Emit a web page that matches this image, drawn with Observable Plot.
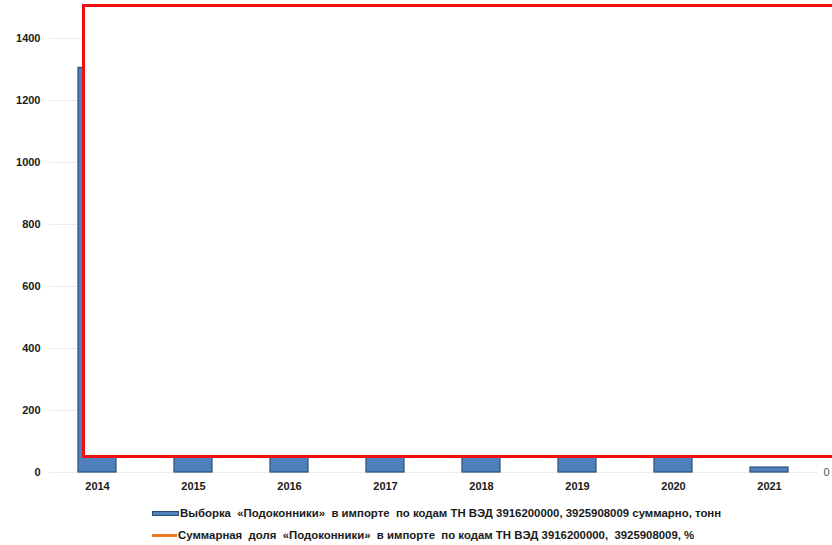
<!DOCTYPE html>
<html><head><meta charset="utf-8">
<script src="https://cdn.jsdelivr.net/npm/d3@7"></script>
<script src="https://cdn.jsdelivr.net/npm/@observablehq/plot@0.6"></script>
<style>
html,body{margin:0;padding:0;background:#fff;overflow:hidden;width:832px;height:545px;}
#wrap{position:relative;width:832px;height:545px;}
#wrap svg{position:absolute;left:0;top:0;}
#box{position:absolute;left:82px;top:4px;width:800px;height:448px;border:3px solid #f00e0e;background:#fff;}
.leg{position:absolute;left:152px;font-family:"Liberation Sans Narrow","Arial Narrow",Arial,sans-serif;font-weight:bold;font-size:11.4px;color:#1a1a1a;white-space:pre;display:flex;align-items:center;}
.sw{display:inline-block;width:25px;margin-right:1px;}
</style></head>
<body><div id="wrap"></div>
<script>
const years = ["2014","2015","2016","2017","2018","2019","2020","2021"];
const tonnes = [1305, 820, 610, 540, 480, 390, 260, 16];
const sharePct = [0.9, 0.6, 0.45, 0.4, 0.35, 0.3, 0.2, 0.15];
const yTicks = [0, 200, 400, 600, 800, 1000, 1200, 1400];
const legendLabels = [
  "Выборка  «Подоконники»  в импорте  по кодам ТН ВЭД 3916200000, 3925908009 суммарно, тонн",
  "Суммарная  доля  «Подоконники»  в импорте  по кодам ТН ВЭД 3916200000,  3925908009, %"
];
const data = years.map((y,i)=>({year:y, t:tonnes[i], p:sharePct[i]}));
const W = 832, H = 500;
const common = {width:W, height:H, marginLeft:49, marginRight:15, marginTop:38, marginBottom:28};
const font = "Liberation Sans, Arial, sans-serif";
const xScale = {domain:years, paddingInner:0.6, paddingOuter:0.3};

const p1 = Plot.plot({
  ...common,
  style:{fontFamily:font, fontSize:"11px", fontWeight:"bold", color:"#1a1a1a", background:"transparent"},
  x:{...xScale, label:null, tickSize:0, tickPadding:10},
  y:{domain:[0,1400], ticks:yTicks, tickFormat:d=>String(d), label:null, tickSize:0, tickPadding:9},
  marks:[
    Plot.gridY(yTicks, {stroke:"#ececec", strokeOpacity:1, strokeWidth:1}),
    Plot.barY(data, {x:"year", y:"t", fill:"#4f81bd", stroke:"#2c4d75", strokeWidth:1.2})
  ]
});
const p2 = Plot.plot({
  ...common,
  style:{fontFamily:font, fontSize:"11px", color:"#555", background:"transparent"},
  x:{...xScale, axis:null},
  y:{domain:[0,1], ticks:[0], tickFormat:d=>String(d), axis:"right", label:null, tickSize:0, tickPadding:6},
  marks:[
    Plot.lineY(data, {x:"year", y:"p", stroke:"#f07a22", strokeWidth:2.5})
  ]
});
const wrap = document.getElementById("wrap");
wrap.appendChild(p1);
wrap.appendChild(p2);
const box = document.createElement("div"); box.id = "box"; wrap.appendChild(box);
const swatches = [
  {bg:"#4f81bd", border:"1px solid #2c4d75", h:"3px"},
  {bg:"#f07a22", border:"none", h:"3px"}
];
legendLabels.forEach((t,i)=>{
  const d = document.createElement("div");
  d.className = "leg";
  d.style.top = (i===0 ? 507 : 529) + "px";
  const s = document.createElement("span");
  s.className = "sw"; s.style.background = swatches[i].bg; s.style.border = swatches[i].border; s.style.height = swatches[i].h;
  d.appendChild(s);
  d.appendChild(document.createTextNode(t));
  wrap.appendChild(d);
});
</script></body></html>
